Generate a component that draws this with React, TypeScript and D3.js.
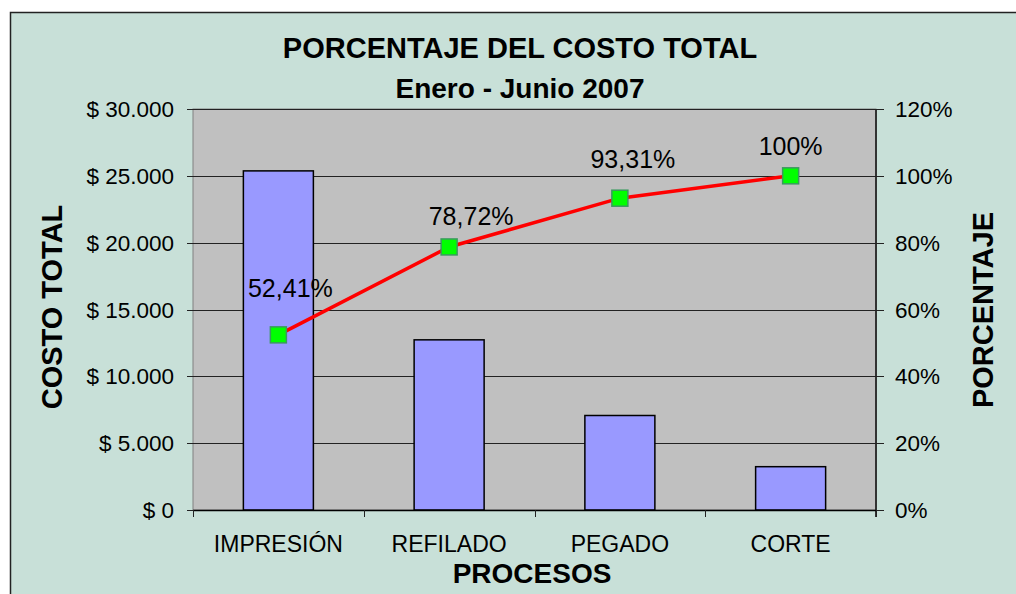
import React from 'react';
import * as d3 from 'd3';

const categories = ['IMPRESIÓN', 'REFILADO', 'PEGADO', 'CORTE'];
const costs = [25370, 12730, 7070, 3240];
const cumulativePct = [52.41, 78.72, 93.31, 100];
const pctLabels = ['52,41%', '78,72%', '93,31%', '100%'];
const costTicks = [0, 5000, 10000, 15000, 20000, 25000, 30000];
const costTickLabels = ['$ 0', '$ 5.000', '$ 10.000', '$ 15.000', '$ 20.000', '$ 25.000', '$ 30.000'];
const pctTicks = [0, 20, 40, 60, 80, 100, 120];

// nudges for the data labels, the way they were dragged in the original
const labelNudge = [[12, -38], [22, -22], [13, -30], [0, -21]];

const W = 1016, H = 594;
const plot = { left: 193, right: 876, top: 109, bottom: 510 };
const font = '"Liberation Sans", Arial, sans-serif';

const App = () => {
  const x = d3.scaleBand().domain(categories).range([plot.left, plot.right]).padding(0);
  const y = d3.scaleLinear().domain([0, 30000]).range([plot.bottom, plot.top]);
  const yPct = d3.scaleLinear().domain([0, 120]).range([plot.bottom, plot.top]);
  const barW = x.bandwidth() * 0.41;
  const cx = (c: string) => (x(c) as number) + x.bandwidth() / 2;

  const line = d3.line<number>()
    .x((_, i) => cx(categories[i]))
    .y(d => yPct(d));

  return (
    <div style={{ position: 'absolute', left: 0, top: 0 }}>
      <svg width={W} height={H} style={{ display: 'block', fontFamily: font }}>
        <rect x={0} y={0} width={W} height={H} fill="#fff" />
        <rect x={10.5} y={12.5} width={W + 20} height={H + 20} fill="#c8e0d8" stroke="#222" strokeWidth={1.5} />

        {/* titles */}
        <text x={520} y={58} textAnchor="middle" fontSize={29} fontWeight="bold">PORCENTAJE DEL COSTO TOTAL</text>
        <text x={520} y={98} textAnchor="middle" fontSize={28} fontWeight="bold">Enero - Junio 2007</text>

        {/* plot area */}
        <rect x={plot.left} y={plot.top} width={plot.right - plot.left} height={plot.bottom - plot.top} fill="#c0c0c0" stroke="#808080" strokeWidth={1} />

        {/* grid lines */}
        {costTicks.map(t => (
          <line key={'g' + t} x1={plot.left} x2={plot.right} y1={Math.round(y(t)) + 0.5} y2={Math.round(y(t)) + 0.5} stroke="#222" strokeWidth={1} />
        ))}

        {/* bars */}
        {categories.map((c, i) => (
          <rect key={c} x={cx(c) - barW / 2} y={y(costs[i])} width={barW} height={plot.bottom - y(costs[i])}
            fill="#9999ff" stroke="#000" strokeWidth={1.5} />
        ))}

        {/* left axis */}
        {costTicks.map((t, i) => (
          <g key={'l' + t}>
            <line x1={plot.left - 6} x2={plot.left} y1={Math.round(y(t)) + 0.5} y2={Math.round(y(t)) + 0.5} stroke="#222" />
            <text x={174} y={y(t)} dy="0.36em" textAnchor="end" fontSize={22.5}>{costTickLabels[i]}</text>
          </g>
        ))}

        {/* right axis */}
        <line x1={plot.right} x2={plot.right} y1={plot.top} y2={plot.bottom + 7} stroke="#333" strokeWidth={2} />
        {pctTicks.map(t => (
          <g key={'r' + t}>
            <line x1={plot.right - 7} x2={plot.right + 8} y1={Math.round(yPct(t)) + 0.5} y2={Math.round(yPct(t)) + 0.5} stroke="#222" />
            <text x={895} y={yPct(t)} dy="0.36em" fontSize={22.5}>{t}%</text>
          </g>
        ))}

        {/* bottom axis */}
        <line x1={plot.left} x2={plot.right} y1={plot.bottom + 0.5} y2={plot.bottom + 0.5} stroke="#000" strokeWidth={1.5} />
        {[...categories.map(c => x(c) as number), plot.right].map((v, i) => (
          <line key={'b' + i} x1={Math.round(v) + 0.5} x2={Math.round(v) + 0.5} y1={plot.bottom} y2={plot.bottom + 7} stroke="#222" />
        ))}
        {categories.map(c => (
          <text key={'t' + c} x={cx(c)} y={552} textAnchor="middle" fontSize={23}>{c}</text>
        ))}

        {/* cumulative line */}
        <path d={line(cumulativePct) || ''} fill="none" stroke="#ff0000" strokeWidth={3.5} />
        {cumulativePct.map((p, i) => (
          <rect key={'m' + i} x={cx(categories[i]) - 8} y={yPct(p) - 8} width={16} height={16}
            fill="#00ff00" stroke="#3a9a5e" strokeWidth={1.5} />
        ))}
        {cumulativePct.map((p, i) => (
          <text key={'d' + i} x={cx(categories[i]) + labelNudge[i][0]} y={yPct(p) + labelNudge[i][1]}
            textAnchor="middle" fontSize={25}>{pctLabels[i]}</text>
        ))}

        {/* axis titles */}
        <text x={532} y={583} textAnchor="middle" fontSize={28} fontWeight="bold">PROCESOS</text>
        <text transform="translate(62,307) rotate(-90)" textAnchor="middle" fontSize={29} fontWeight="bold">COSTO TOTAL</text>
        <text transform="translate(993,310) rotate(-90)" textAnchor="middle" fontSize={29} fontWeight="bold">PORCENTAJE</text>
      </svg>
    </div>
  );
};

export default App;
